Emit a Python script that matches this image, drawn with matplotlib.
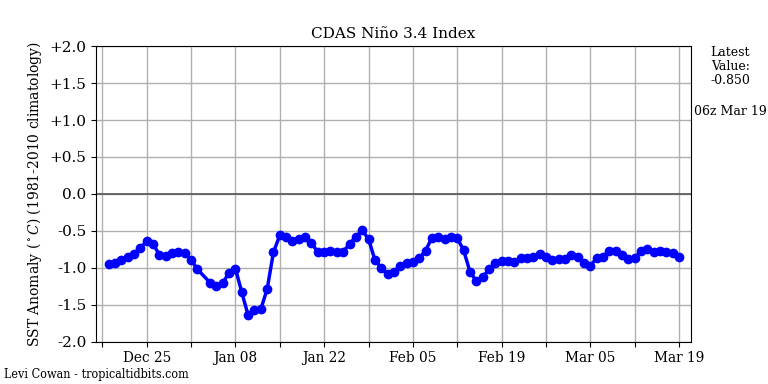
import numpy as np
import pandas as pd
import matplotlib
matplotlib.use('Agg')
import matplotlib.pyplot as plt

plt.rcParams['font.family'] = ['DejaVu Serif']
plt.rcParams['mathtext.fontset'] = 'dejavuserif'

# daily Nino 3.4 anomalies, Dec 19 2025 .. Mar 19 2026 (Jan 03 missing)
dates = pd.date_range('2025-12-19', '2026-03-19', freq='D')
dates = dates[dates != pd.Timestamp('2026-01-03')]

anom = [
    # Dec 19 - Dec 31
    -0.95, -0.94, -0.89, -0.85, -0.81, -0.73, -0.64, -0.68, -0.82, -0.84, -0.80, -0.78, -0.80,
    # Jan 01 - Jan 31 (no Jan 03)
    -0.89, -1.02, -1.20, -1.25, -1.20, -1.07, -1.01, -1.33, -1.64, -1.57,
    -1.56, -1.29, -0.79, -0.56, -0.58, -0.64, -0.61, -0.58, -0.66, -0.79,
    -0.79, -0.77, -0.78, -0.78, -0.68, -0.58, -0.49, -0.61, -0.89, -1.00,
    # Feb 01 - Feb 28
    -1.09, -1.06, -0.97, -0.94, -0.92, -0.87, -0.77, -0.59, -0.58, -0.61,
    -0.58, -0.60, -0.76, -1.05, -1.18, -1.13, -1.02, -0.93, -0.91, -0.91,
    -0.92, -0.87, -0.87, -0.86, -0.81, -0.85, -0.90, -0.88,
    # Mar 01 - Mar 19
    -0.88, -0.82, -0.85, -0.94, -0.97, -0.87, -0.85, -0.77, -0.77, -0.82,
    -0.88, -0.87, -0.77, -0.74, -0.79, -0.77, -0.78, -0.80, -0.85,
]

yticks = np.arange(-2.0, 2.01, 0.5)
ytick_labels = ['-2.0', '-1.5', '-1.0', '-0.5', '0.0', '+0.5', '+1.0', '+1.5', '+2.0']

fig = plt.figure(figsize=(7.68, 3.84), dpi=100)
ax = fig.add_axes([0.125, 0.11, 0.775, 0.77])

ax.axhline(0, color='#555555', linewidth=1.2, zorder=2)
ax.plot(dates, anom, color='blue', linewidth=2.5, marker='o', markersize=6, zorder=3)

ax.set_xlim(pd.Timestamp('2025-12-17'), pd.Timestamp('2026-03-20 22:00'))
ax.set_ylim(-2.0, 2.0)
ax.set_yticks(yticks)
ax.set_yticklabels(ytick_labels, fontsize=11)

# weekly ticks, label every other one
ticks = pd.date_range('2025-12-18', '2026-03-19', freq='7D')
ax.set_xticks(ticks)
ax.set_xticklabels([d.strftime('%b %d') if i % 2 == 1 else '' for i, d in enumerate(ticks)],
                   fontsize=11, fontstretch='condensed')
ax.grid(True, color='#b0b0b0', linewidth=1.0, zorder=1)

ax.set_title('CDAS Niño 3.4 Index', fontsize=11)
ax.set_ylabel(r'SST Anomaly ($^\circ C$) (1981-2010 climatology)', fontsize=10)

fig.text(0.951, 0.88, 'Latest\nValue:\n-0.850', ha='center', va='top', fontsize=9, linespacing=1.1)
fig.text(0.951, 0.71, '06z Mar 19', ha='center', va='center', fontsize=9)
fig.text(0.005, 0.008, 'Levi Cowan - tropicaltidbits.com', ha='left', va='bottom', fontsize=9,
         fontstretch='condensed')

fig.savefig('out.png', dpi=100)
